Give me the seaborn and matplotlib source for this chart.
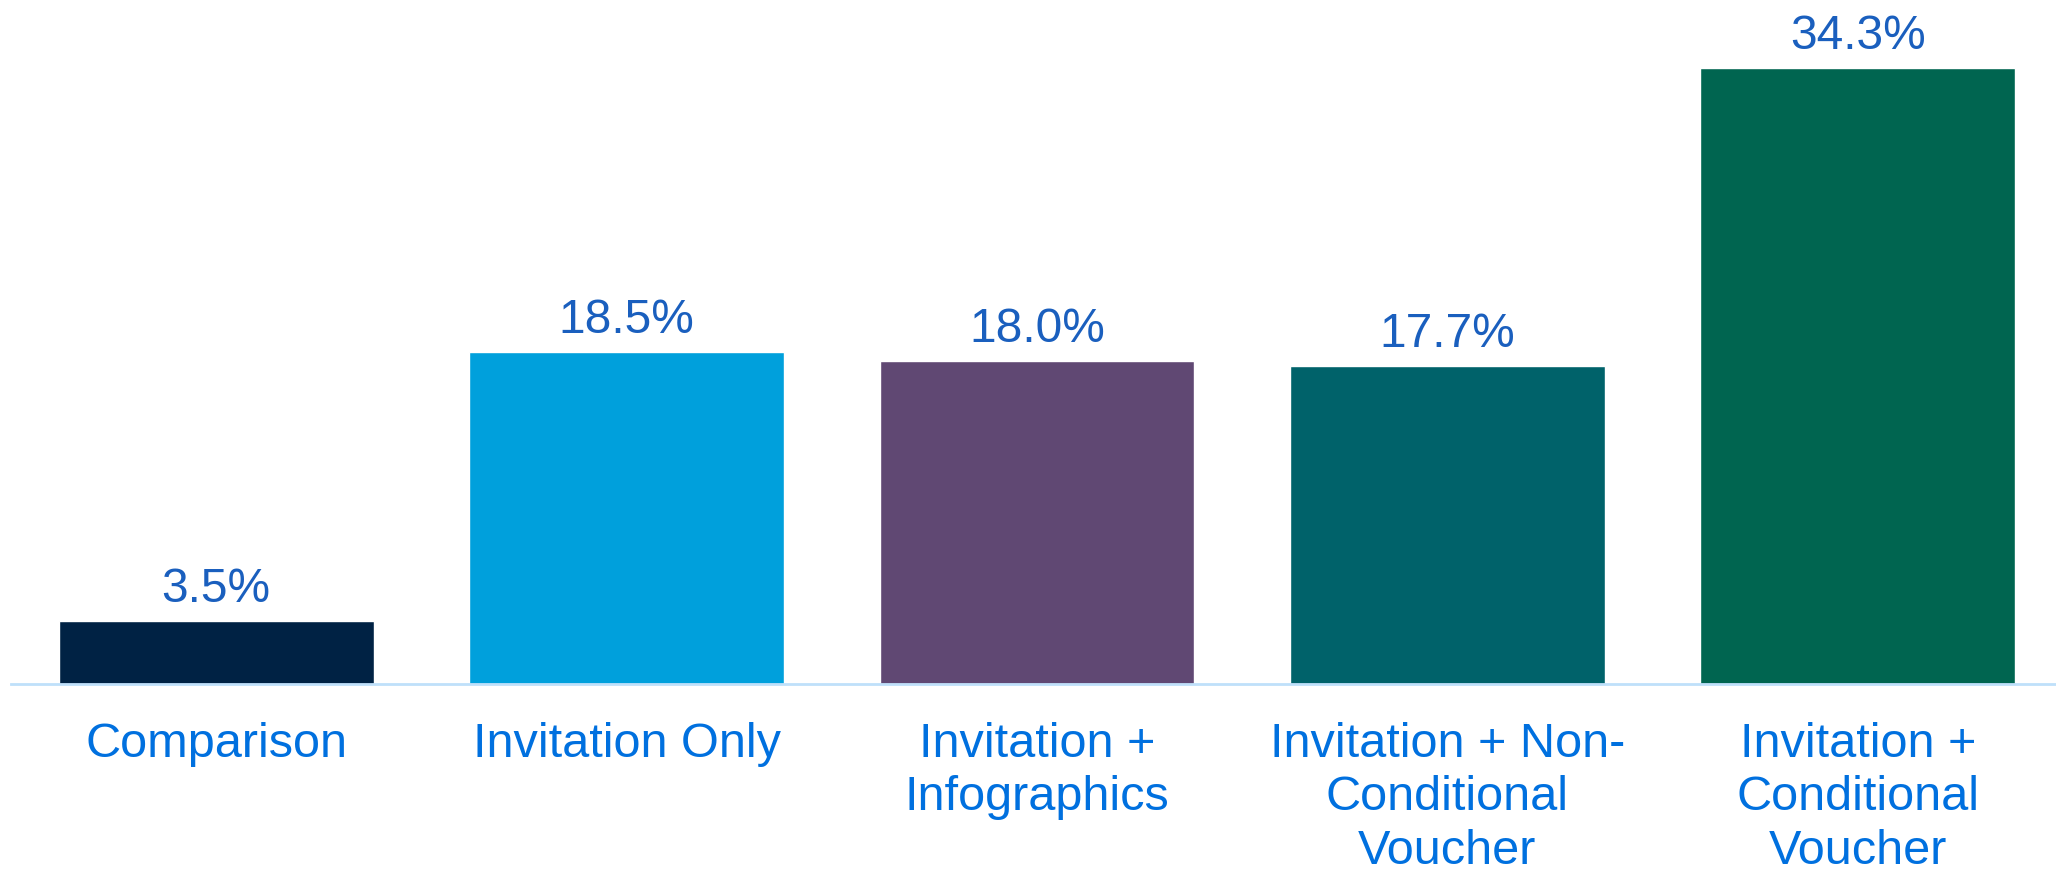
import matplotlib
matplotlib.use("Agg")
import matplotlib.pyplot as plt
import seaborn as sns
import pandas as pd

categories = ["Comparison", "Invitation Only", "Invitation +\nInfographics",
              "Invitation + Non-\nConditional\nVoucher", "Invitation +\nConditional\nVoucher"]
values = [3.5, 18.5, 18.0, 17.7, 34.3]
colors = ["#002244", "#00A0DC", "#604873", "#00626A", "#006550"]

sns.set_theme(style="white")
plt.rcParams['font.family'] = ['Liberation Sans', 'DejaVu Sans']

df = pd.DataFrame({"cat": categories, "val": values})
fig = plt.figure(figsize=(20.56, 8.72), dpi=100)
ax = fig.add_axes([11/2056, (872-684)/872, 2052/2056, 684/872])
sns.barplot(data=df, x="cat", y="val", hue="cat", palette=colors, legend=False,
            width=0.767, saturation=1, ax=ax)
ax.set_xlim(-0.5, 4.5)
ax.set_ylim(0, 684/17.96)
for c in ax.containers:
    ax.bar_label(c, labels=[f"{v:.1f}%" for v in c.datavalues], padding=6.5,
                 fontsize=34.5, color="#1A5FBE")
for s in ["top", "right", "left"]:
    ax.spines[s].set_visible(False)
ax.spines["bottom"].set_color("#BFE0FA")
ax.spines["bottom"].set_linewidth(2)
ax.set_yticks([])
ax.set_xlabel("")
ax.set_ylabel("")
ax.tick_params(axis="x", length=0, pad=27, labelsize=35, labelcolor="#0070DF")
for t in ax.get_xticklabels():
    t.set_linespacing(1.25)
    t.set_ha("center")
    t.set_multialignment("center")
fig.savefig("out.png", dpi=100)
